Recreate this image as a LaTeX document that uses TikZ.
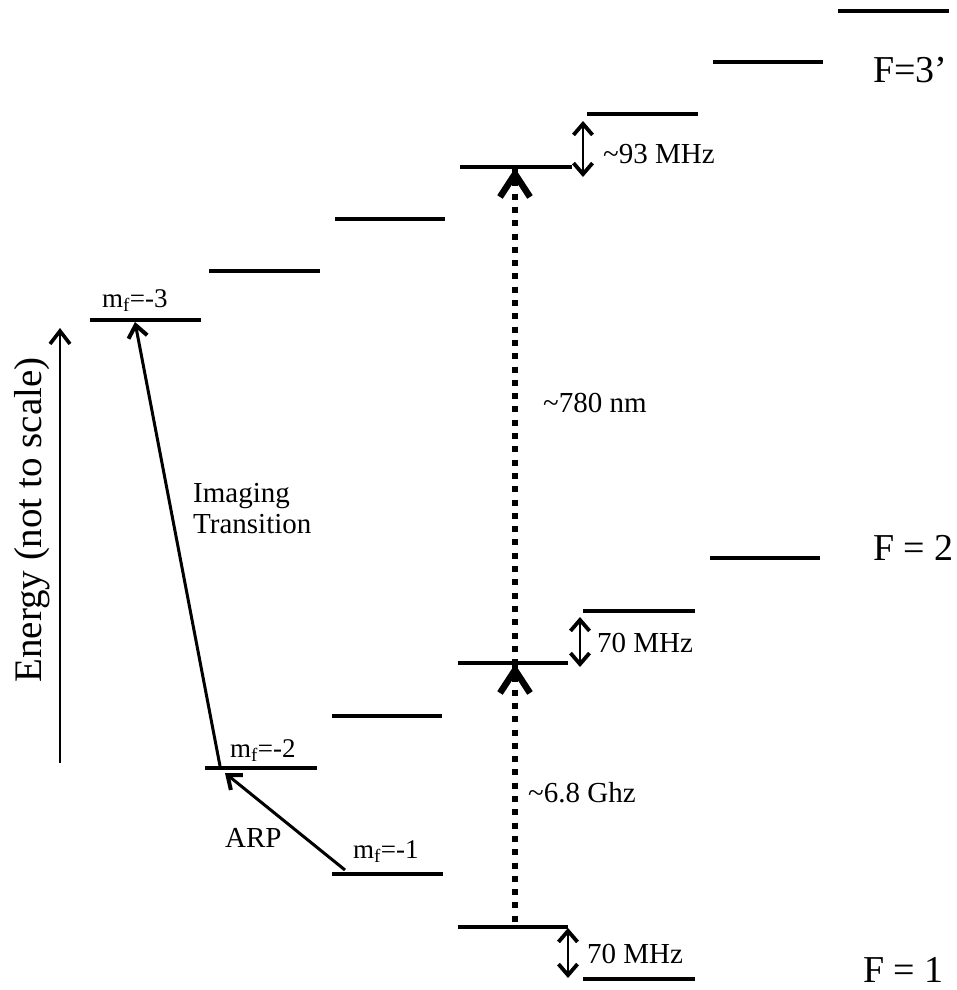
\documentclass[tikz,border=0pt]{standalone}
\usepackage{fontspec}
\setmainfont{Liberation Serif}
\usetikzlibrary{arrows.meta,calc}
\begin{document}
\begin{tikzpicture}[x=1pt,y=-1pt,
  level/.style={line width=3.5pt},
  lbl/.style={font=\fontsize{29}{31}\selectfont, anchor=base west, inner sep=0pt},
  mflbl/.style={font=\fontsize{27}{30}\selectfont, anchor=base west, inner sep=0pt},
  flbl/.style={font=\fontsize{38}{40}\selectfont, anchor=base west, inner sep=0pt},
  trans/.style={line width=3pt, -{Straight Barb[length=12pt,width=19pt,line width=1pt 1]}},
  dbl/.style={line width=2.6pt, {Straight Barb[length=11pt,width=19pt,line width=1.2pt 1]}-{Straight Barb[length=11pt,width=19pt,line width=1.2pt 1]}},
  dots/.style={line width=6.5pt, dash pattern=on 6pt off 7.3pt},
  chev/.style={line width=6.5pt, miter limit=10}]
\useasboundingbox (0,0) rectangle (956,990);
% F=3' manifold
\draw[level] (90,320) -- (201,320);
\draw[level] (209,271) -- (320,271);
\draw[level] (335,219) -- (445,219);
\draw[level] (460,167) -- (572,167);
\draw[level] (587,114) -- (698,114);
\draw[level] (713,62) -- (823,62);
\draw[level] (838,11) -- (949,11);
% F=2 manifold
\draw[level] (205,768) -- (317,768);
\draw[level] (332,716) -- (442,716);
\draw[level] (458,663) -- (568,663);
\draw[level] (583,611) -- (695,611);
\draw[level] (710,558) -- (820,558);
% F=1 manifold
\draw[level] (332,874) -- (443,874);
\draw[level] (458,927) -- (568,927);
\draw[level] (583,979) -- (695,979);
% named points
\coordinate (en0) at (60,763);
\coordinate (en1) at (60,328);
\coordinate (img0) at (220,766);
\coordinate (img1) at (135,322);
\coordinate (arp0) at (345,870);
\coordinate (arp1) at (225,773);
\coordinate (d0) at (515,925);
\coordinate (d1) at (515,663);
\coordinate (d2) at (515,167);
\coordinate (a93t) at (583,121);
\coordinate (a93b) at (583,177);
\coordinate (a70t) at (580,617);
\coordinate (a70b) at (580,667);
\coordinate (b70t) at (568,928);
\coordinate (b70b) at (568,978);
% energy axis
\draw[line width=2.6pt, -{Straight Barb[length=13pt,width=20pt,line width=1pt 1]}] (en0) -- (en1);
\node[font=\fontsize{39}{42}\selectfont, rotate=90, anchor=base, inner sep=0pt] (energy) at (41,520) {Energy (not to scale)};
% transitions
\draw[trans] (img0) -- (img1);
\draw[trans] (arp0) -- (arp1);
% dotted optical / microwave
\draw[dots] (d1) -- (d0);
\draw[dots] (d2) -- (d1);
\draw[chev] ($(d1)+(-15,30)$) -- ($(d1)+(0,7)$) -- ($(d1)+(15,30)$);
\draw[chev] ($(d2)+(-15,30)$) -- ($(d2)+(0,7)$) -- ($(d2)+(15,30)$);
% splittings
\draw[dbl] (a93t) -- (a93b);
\draw[dbl] (a70t) -- (a70b);
\draw[dbl] (b70t) -- (b70b);
% labels
\node[lbl] (l93) at (603,163) {\textasciitilde93 MHz};
\node[lbl] (l70a) at (597,652) {70 MHz};
\node[lbl] (l70b) at (587,963) {70 MHz};
\node[lbl] (l780) at (543,412) {\textasciitilde780 nm};
\node[lbl] (l68) at (528,802) {\textasciitilde6.8 Ghz};
\node[lbl, align=left] (limg) at (193,533) {Imaging\\Transition};
\node[lbl] (larp) at (225,847) {ARP};
\node[mflbl] (m3) at (102,307) {m\textsubscript{f}=-3};
\node[mflbl] (m2) at (230,757) {m\textsubscript{f}=-2};
\node[mflbl] (m1) at (353,858) {m\textsubscript{f}=-1};
\node[flbl] (f3) at (873,82) {F=3’};
\node[flbl] (f2) at (873,560) {F = 2};
\node[flbl] (f1) at (863,982) {F = 1};
\end{tikzpicture}
\end{document}
